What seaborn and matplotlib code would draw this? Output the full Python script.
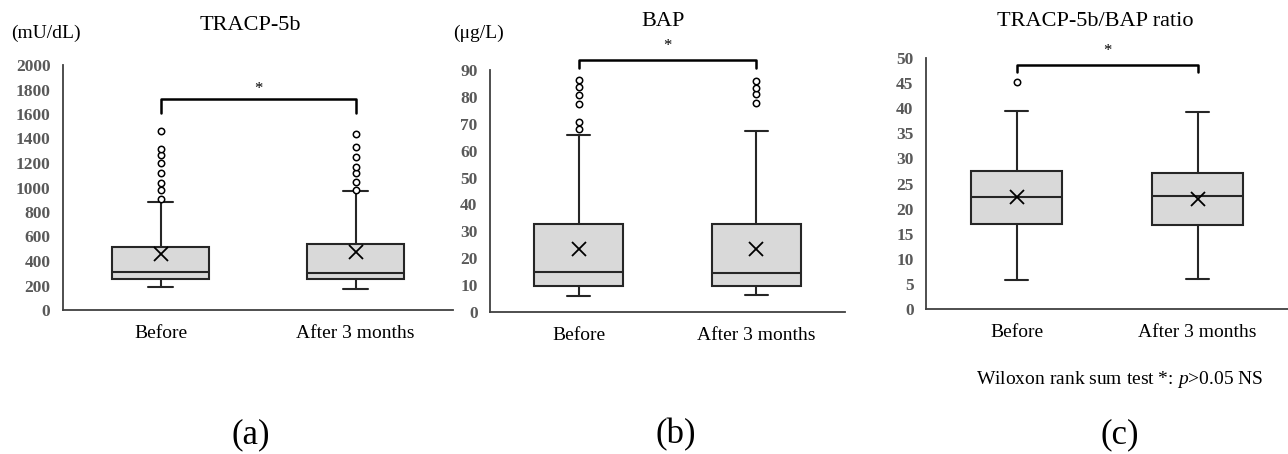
import matplotlib
matplotlib.use("Agg")
import matplotlib.pyplot as plt
import seaborn as sns
import pandas as pd

# ---------------- data ----------------
groups = ["Before", "After 3 months"]

# TRACP-5b (mU/dL)
tracp_whislo = [186, 172]
tracp_q1 = [251, 251]
tracp_med = [314, 298]
tracp_q3 = [511, 541]
tracp_whishi = [885, 973]
tracp_mean = [459, 470]
tracp_fliers = [[907, 981, 1036, 1120, 1199, 1262, 1317, 1459],
                [981, 1044, 1117, 1167, 1251, 1328, 1437]]

# BAP (ug/L)
bap_whislo = [6.0, 6.5]
bap_q1 = [9.8, 9.5]
bap_med = [14.8, 14.5]
bap_q3 = [32.6, 32.9]
bap_whishi = [65.8, 67.3]
bap_mean = [23.6, 23.4]
bap_fliers = [[68.0, 70.5, 77.3, 80.8, 83.7, 86.1],
              [77.6, 81.1, 83.4, 85.8]]

# TRACP-5b/BAP ratio
ratio_whislo = [5.7, 6.0]
ratio_q1 = [17.0, 16.7]
ratio_med = [22.4, 22.5]
ratio_q3 = [27.5, 27.1]
ratio_whishi = [39.5, 39.2]
ratio_mean = [22.3, 22.0]
ratio_fliers = [[45.2], []]

titles = ["TRACP-5b", "BAP", "TRACP-5b/BAP ratio"]
units = ["(mU/dL)", "(\u03bcg/L)", None]
panel_letters = ["(a)", "(b)", "(c)"]
y_max = [2000, 90, 50]
y_step = [200, 10, 5]
bracket_y = [1720, 93.7, 48.7]
bracket_drop = [1605, 90.6, 47.3]
star_y = [1800, 99.0, 51.3]
note = r"Wiloxon rank sum test *: $\mathit{p}$>0.05 NS"

panels = [
    (tracp_whislo, tracp_q1, tracp_med, tracp_q3, tracp_whishi, tracp_mean, tracp_fliers),
    (bap_whislo, bap_q1, bap_med, bap_q3, bap_whishi, bap_mean, bap_fliers),
    (ratio_whislo, ratio_q1, ratio_med, ratio_q3, ratio_whishi, ratio_mean, ratio_fliers),
]

# ---------------- style ----------------
sns.set_theme(style="white")
plt.rcParams["font.family"] = ["Liberation Serif", "DejaVu Serif"]
plt.rcParams["mathtext.fontset"] = "custom"
plt.rcParams["mathtext.rm"] = "Liberation Serif"
plt.rcParams["mathtext.it"] = "Liberation Serif:italic"
plt.rcParams["text.color"] = "black"

W, H = 1288, 454
fig = plt.figure(figsize=(W / 100, H / 100), dpi=100)

def px_rect(left, top, right, bottom):
    return [left / W, 1 - bottom / H, (right - left) / W, (bottom - top) / H]

rects = [px_rect(63, 65, 453, 310), px_rect(490, 70, 845, 312), px_rect(926, 58, 1288, 309)]
title_pos = [(250, 25), (663, 22), (1095, 22)]
unit_pos = [(46, 33), (479, 33), None]
letter_pos = [(251, 435), (676, 435), (1120, 435)]

line_col = "#262626"
gray_txt = "#595959"

for i, (whislo, q1, med, q3, whishi, mean, fliers) in enumerate(panels):
    ax = fig.add_axes(rects[i])

    # outliers via seaborn (categorical axis)
    fl_df = pd.DataFrame({
        "group": [g for g, fl in zip(groups, fliers) for _ in fl],
        "value": [v for fl in fliers for v in fl],
    })
    sns.stripplot(data=fl_df, x="group", y="value", order=groups, jitter=False,
                  ax=ax, marker="o", size=4.6, color="white", edgecolor="black",
                  linewidth=1.1, zorder=5)

    stats = []
    for k in range(len(groups)):
        stats.append(dict(whislo=whislo[k], q1=q1[k], med=med[k], q3=q3[k],
                          whishi=whishi[k], mean=mean[k], fliers=[]))
    ax.bxp(stats, positions=[0, 1], widths=0.5, capwidths=0.13,
           showmeans=True, showfliers=False, patch_artist=True, manage_ticks=False,
           boxprops=dict(facecolor="#D9D9D9", edgecolor=line_col, linewidth=1.5),
           medianprops=dict(color=line_col, linewidth=1.5),
           whiskerprops=dict(color=line_col, linewidth=1.5),
           capprops=dict(color=line_col, linewidth=1.5),
           meanprops=dict(marker="x", markersize=10, markeredgecolor="black",
                          markeredgewidth=1.3, markerfacecolor="black"))

    ax.set_xlim(-0.5, 1.5)
    ax.set_ylim(0, y_max[i])
    ax.set_yticks(range(0, y_max[i] + 1, y_step[i]))
    ax.set_xticks([0, 1])
    ax.set_xticklabels(groups)
    ax.set_xlabel("")
    ax.set_ylabel("")
    for lab in ax.get_yticklabels():
        lab.set_fontweight("bold")
        lab.set_color(gray_txt)
        lab.set_fontsize(12.5)
    for lab in ax.get_xticklabels():
        lab.set_fontsize(14)
        lab.set_color("black")
    ax.tick_params(axis="y", length=0, pad=9)
    ax.tick_params(axis="x", length=0, pad=11)
    sns.despine(ax=ax)
    for s in ["left", "bottom"]:
        ax.spines[s].set_color("#404040")
        ax.spines[s].set_linewidth(1.3)
    ax.patch.set_alpha(0)

    # significance bracket
    ax.plot([0, 0, 1, 1], [bracket_drop[i], bracket_y[i], bracket_y[i], bracket_drop[i]],
            color="black", linewidth=1.8, clip_on=False, zorder=6)
    ax.text(0.5, star_y[i], "*", ha="center", va="center", fontsize=12,
            color="black", clip_on=False)

    fig.text(title_pos[i][0] / W, 1 - title_pos[i][1] / H, titles[i],
             ha="center", va="center", fontsize=16, color="black")
    if units[i]:
        fig.text(unit_pos[i][0] / W, 1 - unit_pos[i][1] / H, units[i],
                 ha="center", va="center", fontsize=14, color="black")
    fig.text(letter_pos[i][0] / W, 1 - letter_pos[i][1] / H, panel_letters[i],
             ha="center", va="center", fontsize=25, color="black")

fig.text(1120 / W, 1 - 380 / H, note, ha="center", va="center", fontsize=14, color="black")

fig.savefig("out.png", dpi=100)
